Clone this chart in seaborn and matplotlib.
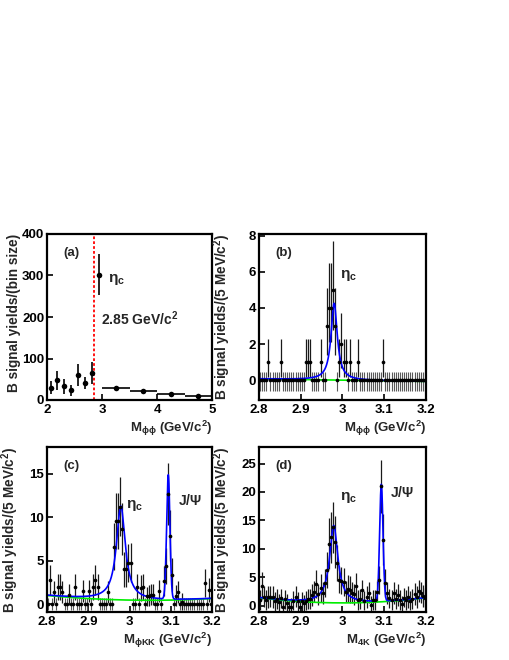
import numpy as np
import matplotlib
matplotlib.use('Agg')
import matplotlib.pyplot as plt
from matplotlib.ticker import FormatStrFormatter
import seaborn as sns

sns.set_style('white')
plt.rcParams['font.family'] = ['Liberation Sans', 'DejaVu Sans']
plt.rcParams['font.weight'] = 'bold'
plt.rcParams['axes.labelweight'] = 'bold'
plt.rcParams['mathtext.fontset'] = 'custom'
plt.rcParams['mathtext.rm'] = 'Liberation Sans:bold'
plt.rcParams['mathtext.bf'] = 'Liberation Sans:bold'
plt.rcParams['mathtext.it'] = 'Liberation Sans:bold'

# ---- panel (a): yields per bin vs M(phi phi)
a_x = [2.065, 2.19, 2.315, 2.435, 2.565, 2.69, 2.82, 2.945]
a_y = [30, 47, 33, 23, 60, 41, 65, 302]
a_err = [16, 24, 18, 14, 26, 15, 27, 50]
a_wide_x = [3.25, 3.75, 4.25, 4.75]
a_wide_y = [28, 22, 14, 10]
a_wide_err = [5, 4, 3, 3]
a_wide_half = [0.25, 0.25, 0.25, 0.25]
a_cut = 2.85

# ---- 5 MeV bins, 2.8 - 3.2
bin_lo = 2.8
bin_w = 0.005

# panel (b): M(phi phi)
b_y = [0, 0, 0, 0, 1, 0, 0, 0, 0, 0,
       1, 0, 0, 0, 0, 0, 0, 0, 0, 0,
       0, 0, 1, 1, 1, 0, 0, 0, 0, 1,
       0, 0, 3, 4, 4, 5, 3, 0, 1, 2,
       1, 1, 0, 1, 0, 0, 0, 1, 0, 0,
       0, 0, 0, 0, 0, 0, 0, 0, 0, 1,
       0, 0, 0, 0, 0, 0, 0, 0, 0, 0,
       0, 0, 0, 0, 0, 0, 0, 0, 0, 0]
b_lo = [.6, .6, .6, .6, .8, .6, .6, .6, .6, .6,
        .8, .6, .6, .6, .6, .6, .6, .6, .6, .6,
        .6, .6, .8, .8, .8, .6, .6, .6, .6, .8,
        .6, .6, 1.6, 1.9, 1.9, 2.2, 1.6, .6, .8, 1.3,
        .8, .8, .6, .8, .6, .6, .6, .8, .6, .6,
        .6, .6, .6, .6, .6, .6, .6, .6, .6, .8,
        .6, .6, .6, .6, .6, .6, .6, .6, .6, .6,
        .6, .6, .6, .6, .6, .6, .6, .6, .6, .6]
b_hi = [.45, .45, .45, .45, 1.3, .45, .45, .45, .45, .45,
        1.3, .45, .45, .45, .45, .45, .45, .45, .45, .45,
        .45, .45, 1.3, 1.3, 1.3, .45, .45, .45, .45, 1.3,
        .45, .45, 2.1, 2.5, 2.5, 2.7, 2.1, .45, 1.3, 1.7,
        1.3, 1.3, .45, 1.3, .45, .45, .45, 1.3, .45, .45,
        .45, .45, .45, .45, .45, .45, .45, .45, .45, 1.3,
        .45, .45, .45, .45, .45, .45, .45, .45, .45, .45,
        .45, .45, .45, .45, .45, .45, .45, .45, .45, .45]

# panel (c): M(phi K K)
c_y = [0, 2.8, 0, 1.4, 0, 2.0, 2.0, 1.4, 0, 0,
       1.1, 0, 0, 2.0, 0, 0, 0, 1.5, 0, 0,
       1.5, 0, 2.0, 2.8, 2.0, 0, 0, 0, 0, 1.4,
       0, 0, 6.6, 9.6, 9.6, 11.2, 8.7, 4.0, 4.0, 4.7,
       4.8, 0, 0, 2.0, 0, 1.9, 2.0, 0, 0.9, 1.0,
       1.1, 1.1, 0, 0, 1.5, 0, 2.7, 4.4, 12.7, 7.9,
       3.4, 0, 1.0, 1.4, 0, 0.3, 0, 0, 0, 0,
       0, 0, 0, 0, 0, 0, 2.4, 0, 1.6, 0]
c_err = [.7, 1.7, .7, 1.3, .7, 1.5, 1.5, 1.3, .7, .7,
         1.2, .7, .7, 1.5, .7, .7, .7, 1.3, .7, .7,
         1.3, .7, 1.5, 1.7, 1.5, .7, .7, .7, .7, 1.3,
         .7, .7, 2.7, 3.2, 3.2, 3.4, 3.0, 2.0, 2.0, 2.2,
         2.2, .7, .7, 1.5, .7, 1.5, 1.5, .7, 1.1, 1.2,
         1.2, 1.2, .7, .7, 1.3, .7, 1.7, 2.1, 3.6, 2.9,
         1.9, .7, 1.2, 1.3, .7, 1.0, .7, .7, .7, .7,
         .7, .7, .7, .7, .7, .7, 1.6, .7, 1.4, .7]

# panel (d): M(4K)
d_y = [1.0, 3.5, 1.6, 1.0, 1.5, 1.6, 1.5, 0.8, 1.2, 0.6,
       1.3, -0.3, 1.1, 0.5, -0.3, -0.2, 0.9, 1.6, 0.8, -0.3,
       0.8, 0.4, 0.9, 1.2, 1.2, 1.9, 2.5, 3.8, 2.0, 3.1,
       2.2, 4.0, 6.3, 10.9, 12.0, 13.8, 11.2, 7.5, 4.6, 4.4,
       4.2, 2.5, 3.0, 2.8, 2.3, 2.0, 3.4, 1.0, 1.2, 2.7,
       0.9, 1.5, 2.3, 0.2, 1.0, 1.0, 2.5, 4.5, 21.0, 11.6,
       4.0, 2.2, 1.3, 1.0, 2.2, 1.2, 1.9, 1.0, 0.3, 1.4,
       1.0, 1.5, 0.9, 1.2, 2.1, 1.5, 2.6, 2.3, 1.7, 1.4]
d_err = [1.7, 2.4, 1.9, 1.7, 1.9, 1.9, 1.9, 1.7, 1.7, 1.5,
         1.7, 1.5, 1.7, 1.5, 1.5, 1.5, 1.7, 1.9, 1.7, 1.5,
         1.7, 1.5, 1.7, 1.7, 1.7, 1.9, 1.9, 2.4, 1.9, 2.4,
         1.9, 2.4, 3.2, 4.5, 4.5, 4.5, 4.5, 3.2, 2.4, 2.4,
         2.4, 1.9, 2.4, 2.4, 1.9, 1.9, 2.4, 1.7, 1.7, 1.9,
         1.7, 1.9, 1.9, 1.5, 1.7, 1.7, 1.9, 2.4, 4.7, 4.5,
         2.4, 1.9, 1.7, 1.7, 1.9, 1.7, 1.9, 1.7, 1.5, 1.7,
         1.7, 1.9, 1.7, 1.7, 1.9, 1.9, 1.9, 1.9, 1.9, 1.7]

# fit results (mass, half width / sigma, height)
b_etac = (2.980, 0.009, 4.25)
b_bkg = (0.07, -0.35)          # linear, x measured from 2.8
c_etac = (2.979, 0.013, 10.8)
c_jpsi = (3.094, 0.004, 14.3)
c_bkg = (0.45, 3.05, 8.8)      # quadratic around a minimum
d_etac = (2.979, 0.012, 13.6)
d_jpsi = (3.093, 0.004, 20.5)
d_bkg = (0.5, 3.0, 22.5)


def breit_wigner(x, pars):
    m, g, h = pars
    return h * g**2 / ((x - m)**2 + g**2)


def gauss(x, pars):
    m, s, h = pars
    return h * np.exp(-0.5 * ((x - m) / s)**2)


def style(ax, xlim, ylim, xticks, yticks):
    ax.set_xlim(xlim)
    ax.set_ylim(ylim)
    ax.set_xticks(xticks)
    ax.set_yticks(yticks)
    ax.xaxis.set_major_formatter(FormatStrFormatter('%g'))
    ax.tick_params(direction='in', length=4.5, width=1.2, labelsize=9.5,
                   top=False, right=False, bottom=True, left=True,
                   colors='black')
    ax.tick_params(axis='x', pad=3)
    ax.tick_params(axis='y', pad=2)
    for s in ax.spines.values():
        s.set_linewidth(1.6)
        s.set_color('black')


def labels(ax, xl, yl, tag):
    ax.set_xlabel(xl, fontsize=9.5, loc='right')
    ax.xaxis.set_label_coords(1.0, -0.112)
    ax.set_ylabel(yl, fontsize=9.8, loc='top')
    ax.yaxis.set_label_coords(-0.155, 1.0)
    ax.text(0.15, 0.885, tag, transform=ax.transAxes, fontsize=9.5,
            ha='center', va='center')


def binned(ax, y, lo, hi):
    x = bin_lo + bin_w * (np.arange(len(y)) + 0.5)
    y = np.array(y, dtype=float)
    lo = np.array(lo)
    hi = np.array(hi)
    empty = y == 0
    ax.errorbar(x[empty], y[empty], yerr=[lo[empty], hi[empty]], fmt='none',
                ecolor='#5a5a5a', elinewidth=0.8, capsize=0, zorder=2)
    ax.errorbar(x[~empty], y[~empty], yerr=[lo[~empty], hi[~empty]], fmt='none',
                ecolor='#1a1a1a', elinewidth=0.9, capsize=0, zorder=2)
    sns.scatterplot(x=x, y=y, ax=ax, color='black', s=7, linewidth=0,
                    zorder=3, legend=False)


xx = np.linspace(2.8, 3.2, 1601)

fig = plt.figure(figsize=(5.1, 6.6), dpi=100)
ax_a = fig.add_axes([47/510, 260/660, 165/510, 166/660])
ax_b = fig.add_axes([259/510, 260/660, 167/510, 166/660])
ax_c = fig.add_axes([47/510, 48/660, 165/510, 165/660])
ax_d = fig.add_axes([259/510, 48/660, 167/510, 165/660])

# (a)
ax_a.errorbar(a_x, a_y, yerr=a_err, fmt='none', ecolor='black',
              elinewidth=1.2, capsize=0)
ax_a.errorbar(a_wide_x, a_wide_y, xerr=a_wide_half, yerr=a_wide_err,
              fmt='none', ecolor='black', elinewidth=1.2, capsize=0)
sns.scatterplot(x=a_x + a_wide_x, y=a_y + a_wide_y, ax=ax_a, color='black',
                s=16, linewidth=0, zorder=3, legend=False)
ax_a.axvline(a_cut, color='red', lw=1.3, ls=(0, (1.5, 1.2)))
style(ax_a, (2, 5), (0, 400), [2, 3, 4, 5], [0, 100, 200, 300, 400])
labels(ax_a, r'M$_{\phi\phi}$ (GeV/c$^{2}$)', 'B signal yields/(bin size)', '(a)')
ax_a.text(3.11, 290, r'$\eta_{c}$', fontsize=11, ha='left', va='center')
ax_a.text(2.99, 197, r'2.85 GeV/c$^{2}$', fontsize=10, ha='left', va='center')

# (b)
binned(ax_b, b_y, b_lo, b_hi)
bk = b_bkg[0] + b_bkg[1] * (xx - 2.8)
sns.lineplot(x=xx, y=bk, ax=ax_b, color='#00ee00', lw=1.2, estimator=None, sort=False)
sns.lineplot(x=xx, y=bk + breit_wigner(xx, b_etac), ax=ax_b, color='blue', lw=1.2,
             estimator=None, sort=False)
style(ax_b, (2.8, 3.2), (-1.1, 8.1), [2.8, 2.9, 3.0, 3.1, 3.2], [0, 2, 4, 6, 8])
labels(ax_b, r'M$_{\phi\phi}$ (GeV/c$^{2}$)', r'B signal yields/(5 MeV/c$^{2}$)', '(b)')
ax_b.text(3.014, 5.8, r'$\eta_{c}$', fontsize=11, ha='center', va='center')

# (c)
binned(ax_c, c_y, c_err, c_err)
bk = c_bkg[0] + c_bkg[2] * (xx - c_bkg[1])**2
sns.lineplot(x=xx, y=bk, ax=ax_c, color='#00ee00', lw=1.2, estimator=None, sort=False)
sns.lineplot(x=xx, y=bk + breit_wigner(xx, c_etac) + gauss(xx, c_jpsi), ax=ax_c,
             color='blue', lw=1.2, estimator=None, sort=False)
style(ax_c, (2.8, 3.2), (-0.9, 18.1), [2.8, 2.9, 3.0, 3.1, 3.2], [0, 5, 10, 15])
labels(ax_c, r'M$_{\phi\mathrm{KK}}$ (GeV/c$^{2}$)', r'B signal yields/(5 MeV/c$^{2}$)', '(c)')
ax_c.text(3.013, 11.4, r'$\eta_{c}$', fontsize=11, ha='center', va='center')
ax_c.text(3.147, 11.9, r'J/$\Psi$', fontsize=10, ha='center', va='center')

# (d)
binned(ax_d, d_y, d_err, d_err)
bk = d_bkg[0] + d_bkg[2] * (xx - d_bkg[1])**2
sns.lineplot(x=xx, y=bk, ax=ax_d, color='#00ee00', lw=1.2, estimator=None, sort=False)
sns.lineplot(x=xx, y=bk + breit_wigner(xx, d_etac) + gauss(xx, d_jpsi), ax=ax_d,
             color='blue', lw=1.2, estimator=None, sort=False)
style(ax_d, (2.8, 3.2), (-1.1, 27.9), [2.8, 2.9, 3.0, 3.1, 3.2], [0, 5, 10, 15, 20, 25])
labels(ax_d, r'M$_{\mathrm{4K}}$ (GeV/c$^{2}$)', r'B signal yields/(5 MeV/c$^{2}$)', '(d)')
ax_d.text(3.014, 19.0, r'$\eta_{c}$', fontsize=11, ha='center', va='center')
ax_d.text(3.142, 19.9, r'J/$\Psi$', fontsize=10, ha='center', va='center')

fig.savefig('out.png', dpi=100)
